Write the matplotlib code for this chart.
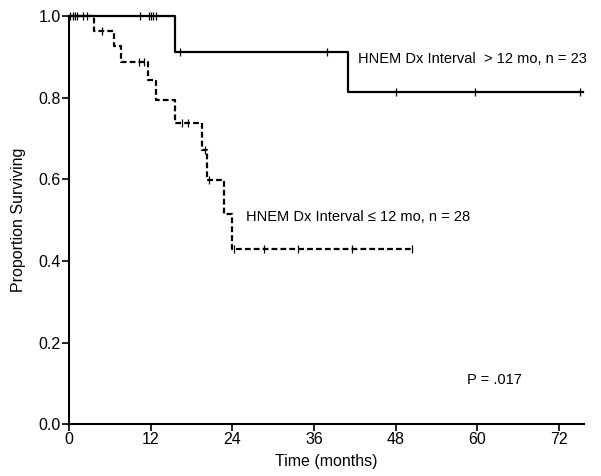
import numpy as np
import matplotlib.pyplot as plt

plt.rcParams['font.family'] = ['Liberation Sans', 'DejaVu Sans']

# group > 12 mo (solid)
long_t = [0, 15.6, 41.0, 75.6]
long_s = [1.0, 0.913, 0.815, 0.815]
long_cens = [0.15, 0.5, 0.9, 1.2, 2.1, 2.6, 10.4, 11.7, 12.05, 12.4, 12.75,
             16.3, 37.9, 48.1, 59.6, 75.1]

# group <= 12 mo (dashed)
short_t = [0, 3.6, 6.6, 7.6, 11.6, 12.7, 15.6, 19.5, 20.2, 22.7, 24.0, 50.6]
short_s = [1.0, 0.964, 0.926, 0.888, 0.843, 0.794, 0.737, 0.672, 0.598, 0.515,
           0.429, 0.429]
short_cens = [4.8, 10.3, 11.0, 16.6, 17.5, 19.9, 20.5, 24.2, 28.6, 33.7, 41.6, 50.4]

xticks = [0, 12, 24, 36, 48, 60, 72]
yticks = [0.0, 0.2, 0.4, 0.6, 0.8, 1.0]


def level_at(t, times, surv):
    idx = np.searchsorted(times, t, side='right') - 1
    return np.array(surv)[idx]


fig = plt.figure(figsize=(6.01, 4.76), dpi=100)
ax = fig.add_axes([0.115, 0.109, 0.857, 0.857])

ax.plot(long_t, long_s, drawstyle='steps-post', color='black', lw=1.6,
        clip_on=False)
ax.plot(long_cens, level_at(long_cens, long_t, long_s), ls='none',
        marker='|', ms=6, mew=0.9, color='black', clip_on=False)

ax.plot(short_t, short_s, drawstyle='steps-post', color='black', lw=1.6,
        dashes=(2.6, 1.4), clip_on=False)
ax.plot(short_cens, level_at(short_cens, short_t, short_s), ls='none',
        marker='|', ms=6, mew=0.9, color='black', clip_on=False)

ax.text(42.5, 0.894, 'HNEM Dx Interval  > 12 mo, n = 23', fontsize=10.5,
        va='center', ha='left')
ax.text(26.0, 0.508, 'HNEM Dx Interval \u2264 12 mo, n = 28', fontsize=10.5,
        va='center', ha='left')
ax.text(58.5, 0.108, 'P = .017', fontsize=10.5, va='center', ha='left')

ax.set_xlim(0, 75.7)
ax.set_ylim(0, 1.0)
ax.set_xticks(xticks)
ax.set_yticks(yticks)
ax.set_yticklabels(['%.1f' % v for v in yticks])
ax.tick_params(direction='out', length=5, width=1.2, labelsize=11.5, pad=1)
for s in ['top', 'right']:
    ax.spines[s].set_visible(False)
for s in ['left', 'bottom']:
    ax.spines[s].set_linewidth(1.5)
ax.set_xlabel('Time (months)', fontsize=11.5, labelpad=5)
ax.set_ylabel('Proportion Surviving', fontsize=11.5, labelpad=9)

fig.savefig('out.png', dpi=100)
